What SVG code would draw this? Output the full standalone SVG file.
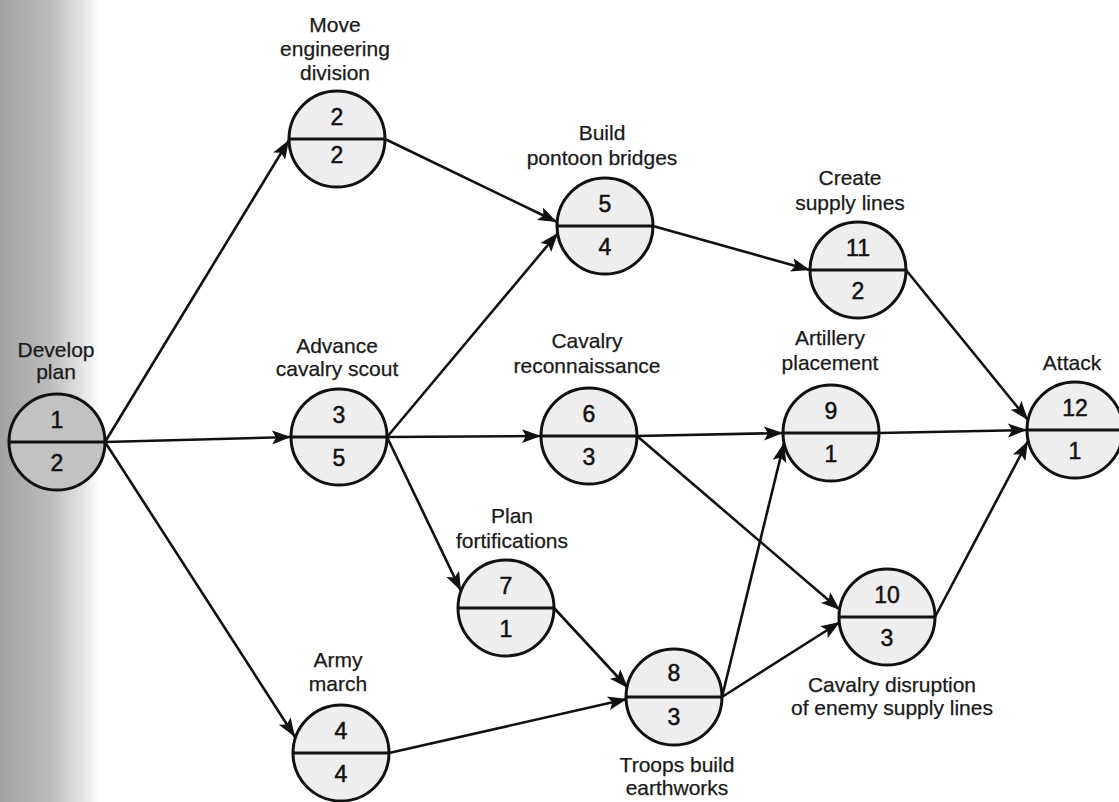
<svg xmlns="http://www.w3.org/2000/svg" width="1119" height="802" viewBox="0 0 1119 802">
  <defs>
    <linearGradient id="scan" x1="0" y1="0" x2="1" y2="0">
      <stop offset="0" stop-color="#a2a2a2"/>
      <stop offset="0.5" stop-color="#bcbcbc"/>
      <stop offset="0.8" stop-color="#e0e0e0"/>
      <stop offset="1" stop-color="#ffffff"/>
    </linearGradient>
    <marker id="arr" markerUnits="userSpaceOnUse" markerWidth="20" markerHeight="16" refX="19" refY="8" orient="auto">
      <path d="M0,1 L19,8 L0,15 L4,8 z" fill="#111"/>
    </marker>
    <style>
      .node circle { fill: #eeeeee; stroke: #111; stroke-width: 3; }
      .node line { stroke: #111; stroke-width: 3; }
      .lbl { font-family: "Liberation Sans", Arial, sans-serif; font-size: 21px; fill: #1a1a1a; stroke: #1a1a1a; stroke-width: 0.25; text-anchor: middle; }
      .num { font-family: "Liberation Sans", Arial, sans-serif; font-size: 23px; fill: #111; stroke: #111; stroke-width: 0.5; text-anchor: middle; }
      .edges line { stroke: #111; stroke-width: 2.6; marker-end: url(#arr); }
    </style>
  </defs>
  <rect x="0" y="0" width="1119" height="802" fill="#ffffff"/>
  <rect x="0" y="0" width="100" height="802" fill="url(#scan)"/>

  <g class="edges" id="connectors">
    <line x1="105" y1="442" x2="289" y2="140"/>
    <line x1="105" y1="442" x2="291" y2="437"/>
    <line x1="105" y1="442" x2="295" y2="737"/>
    <line x1="385" y1="139" x2="557" y2="222"/>
    <line x1="387" y1="437" x2="558" y2="233"/>
    <line x1="387" y1="437" x2="541" y2="436"/>
    <line x1="387" y1="437" x2="461" y2="591"/>
    <line x1="389" y1="753" x2="627" y2="699"/>
    <line x1="554" y1="608" x2="628" y2="688"/>
    <line x1="637" y1="436" x2="783" y2="433"/>
    <line x1="637" y1="436" x2="840" y2="610"/>
    <line x1="722" y1="697" x2="784" y2="443"/>
    <line x1="722" y1="697" x2="840" y2="622"/>
    <line x1="653" y1="226" x2="810" y2="270"/>
    <line x1="906" y1="270" x2="1028" y2="420"/>
    <line x1="879" y1="433" x2="1027" y2="430"/>
    <line x1="935" y1="617" x2="1028" y2="441"/>
  </g>

  <g class="node" id="node1">
    <circle cx="57" cy="442" r="48" style="fill:#c2c2c2"/>
    <line x1="9" y1="442" x2="105" y2="442"/>
    <text class="num" x="57" y="428">1</text>
    <text class="num" x="57" y="471">2</text>
    <text class="lbl" x="56" y="357">Develop</text>
    <text class="lbl" x="56" y="379">plan</text>
  </g>
  <g class="node" id="node2">
    <circle cx="337" cy="139" r="48"/>
    <line x1="289" y1="139" x2="385" y2="139"/>
    <text class="num" x="337" y="125">2</text>
    <text class="num" x="337" y="163">2</text>
    <text class="lbl" x="335" y="32">Move</text>
    <text class="lbl" x="335" y="56">engineering</text>
    <text class="lbl" x="335" y="80">division</text>
  </g>
  <g class="node" id="node3">
    <circle cx="339" cy="437" r="48"/>
    <line x1="291" y1="437" x2="387" y2="437"/>
    <text class="num" x="339" y="423">3</text>
    <text class="num" x="339" y="466">5</text>
    <text class="lbl" x="337" y="353">Advance</text>
    <text class="lbl" x="337" y="376">cavalry scout</text>
  </g>
  <g class="node" id="node4">
    <circle cx="341" cy="753" r="48"/>
    <line x1="293" y1="753" x2="389" y2="753"/>
    <text class="num" x="341" y="739">4</text>
    <text class="num" x="341" y="782">4</text>
    <text class="lbl" x="338" y="667">Army</text>
    <text class="lbl" x="338" y="691">march</text>
  </g>
  <g class="node" id="node5">
    <circle cx="605" cy="226" r="48"/>
    <line x1="557" y1="226" x2="653" y2="226"/>
    <text class="num" x="605" y="212">5</text>
    <text class="num" x="605" y="255">4</text>
    <text class="lbl" x="602" y="140">Build</text>
    <text class="lbl" x="602" y="165">pontoon bridges</text>
  </g>
  <g class="node" id="node6">
    <circle cx="589" cy="436" r="48"/>
    <line x1="541" y1="436" x2="637" y2="436"/>
    <text class="num" x="589" y="422">6</text>
    <text class="num" x="589" y="465">3</text>
    <text class="lbl" x="587" y="348">Cavalry</text>
    <text class="lbl" x="587" y="373">reconnaissance</text>
  </g>
  <g class="node" id="node7">
    <circle cx="506" cy="608" r="48"/>
    <line x1="458" y1="608" x2="554" y2="608"/>
    <text class="num" x="506" y="594">7</text>
    <text class="num" x="506" y="637">1</text>
    <text class="lbl" x="512" y="523">Plan</text>
    <text class="lbl" x="512" y="548">fortifications</text>
  </g>
  <g class="node" id="node8">
    <circle cx="674" cy="697" r="48"/>
    <line x1="626" y1="697" x2="722" y2="697"/>
    <text class="num" x="674" y="681">8</text>
    <text class="num" x="674" y="725">3</text>
    <text class="lbl" x="677" y="772">Troops build</text>
    <text class="lbl" x="677" y="795">earthworks</text>
  </g>
  <g class="node" id="node9">
    <circle cx="831" cy="433" r="48"/>
    <line x1="783" y1="433" x2="879" y2="433"/>
    <text class="num" x="831" y="419">9</text>
    <text class="num" x="831" y="462">1</text>
    <text class="lbl" x="830" y="345">Artillery</text>
    <text class="lbl" x="830" y="370">placement</text>
  </g>
  <g class="node" id="node10">
    <circle cx="887" cy="617" r="48"/>
    <line x1="839" y1="617" x2="935" y2="617"/>
    <text class="num" x="887" y="603">10</text>
    <text class="num" x="887" y="646">3</text>
    <text class="lbl" x="892" y="692">Cavalry disruption</text>
    <text class="lbl" x="892" y="715">of enemy supply lines</text>
  </g>
  <g class="node" id="node11">
    <circle cx="858" cy="270" r="48"/>
    <line x1="810" y1="270" x2="906" y2="270"/>
    <text class="num" x="858" y="256">11</text>
    <text class="num" x="858" y="299">2</text>
    <text class="lbl" x="850" y="185">Create</text>
    <text class="lbl" x="850" y="210">supply lines</text>
  </g>
  <g class="node" id="node12">
    <circle cx="1075" cy="430" r="48"/>
    <line x1="1027" y1="430" x2="1123" y2="430"/>
    <text class="num" x="1075" y="416">12</text>
    <text class="num" x="1075" y="459">1</text>
    <text class="lbl" x="1072" y="370">Attack</text>
  </g>
</svg>
